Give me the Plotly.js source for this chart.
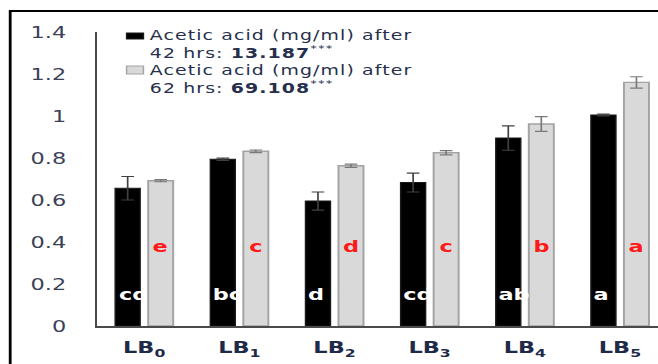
<!DOCTYPE html>
<html>
<head>
<meta charset="utf-8">
<script src="https://cdn.plot.ly/plotly-3.0.1.min.js"></script>
<style>
  html, body { margin: 0; padding: 0; background: #fff; overflow: hidden; }
  /* the reference image is horizontally stretched by 1.4; reproduce that stretch */
  #chart { width: 470px; height: 364px; transform: scaleX(1.4); transform-origin: 0 0; }
  .annotation[data-index="12"] .annotation-text { letter-spacing: 0.8px; }
</style>
</head>
<body>
<div id="chart"></div>
<script>
// ---- data ----
const categories = ['LB0', 'LB1', 'LB2', 'LB3', 'LB4', 'LB5'];
const tickLabels = ['LB<sub>0</sub>', 'LB<sub>1</sub>', 'LB<sub>2</sub>', 'LB<sub>3</sub>', 'LB<sub>4</sub>', 'LB<sub>5</sub>'];
const acid42 = [0.656, 0.794, 0.595, 0.683, 0.895, 1.005];
const err42  = [0.056, 0.005, 0.043, 0.045, 0.058, 0.004];
const acid62 = [0.692, 0.832, 0.763, 0.825, 0.962, 1.160];
const err62  = [0.005, 0.006, 0.008, 0.010, 0.035, 0.027];
const letters42 = ['cd', 'bc', 'd', 'cd', 'ab', 'a'];
const letters62 = ['e', 'c', 'd', 'c', 'b', 'a'];
const legend42 = ['Acetic acid (mg/ml) after', '42 hrs: <b>13.187</b><sup>***</sup>'];
const legend62 = ['Acetic acid (mg/ml) after', '62 hrs: <b>69.108</b><sup>***</sup>'];
const yTicks = [0, 0.2, 0.4, 0.6, 0.8, 1, 1.2, 1.4];

// ---- styling ----
const BAR_W = 0.263;
const OFF42 = -0.305;
const OFF62 = 0.042;
const COL42 = '#000000', LINE42 = '#1a1a1a';
const COL62 = '#d9d9d9', LINE62 = '#a3a3a3';

const traces = [
  {
    type: 'bar', name: legend42.join(' '), x: categories, y: acid42,
    width: BAR_W, offset: OFF42, showlegend: false,
    marker: { color: COL42, line: { color: LINE42, width: 1 } },
    error_y: { type: 'data', array: err42, visible: true, color: '#404040', thickness: 1.2, width: 4.5 }
  },
  {
    type: 'bar', name: legend62.join(' '), x: categories, y: acid62,
    width: BAR_W, offset: OFF62, showlegend: false,
    marker: { color: COL62, line: { color: LINE62, width: 1.4 } },
    error_y: { type: 'data', array: err62, visible: true, color: '#7a7a7a', thickness: 1.2, width: 4.5 }
  }
];

const annotations = [];
letters42.forEach((t, i) => {
  annotations.push({
    x: i + OFF42 + 0.004, y: 0.148, xref: 'x', yref: 'y', text: t,
    showarrow: false, xanchor: 'left', yanchor: 'middle',
    font: { family: 'DejaVu Sans', size: 16, weight: 'bold', color: '#ffffff' }
  });
});
letters62.forEach((t, i) => {
  annotations.push({
    x: i + OFF62 + BAR_W / 2, y: 0.38, xref: 'x', yref: 'y', text: t,
    showarrow: false, xanchor: 'center', yanchor: 'middle',
    font: { family: 'DejaVu Sans', size: 16, weight: 'bold', color: '#ff1a1a' }
  });
});

// legend text (one block, drawn manually so line spacing matches the reference)
annotations.push({
  x: 0.089, y: 1.025, xref: 'paper', yref: 'paper',
  text: [...legend42, ...legend62].join('<br>'),
  showarrow: false, xanchor: 'left', yanchor: 'top', align: 'left',
  font: { family: 'DejaVu Sans', size: 13.5, color: '#26304d' }
});

const shapes = [
  { type: 'rect', xref: 'paper', yref: 'paper', x0: 0.0534, x1: 0.0835, y0: 0.9762, y1: 0.9966,
    fillcolor: COL42, line: { color: LINE42, width: 1 } },
  { type: 'rect', xref: 'paper', yref: 'paper', x0: 0.0534, x1: 0.0835, y0: 0.8571, y1: 0.8844,
    fillcolor: COL62, line: { color: LINE62, width: 1 } },
  { type: 'rect', xref: 'paper', yref: 'paper', x0: -0.1539, x1: 1.1, y0: -0.3, y1: 1.0714,
    line: { color: '#000000', width: 2 }, fillcolor: 'rgba(0,0,0,0)', layer: 'above' }
];

const layout = {
  width: 470, height: 364,
  margin: { l: 68.57, r: 0, t: 32, b: 38, pad: 0 },
  paper_bgcolor: '#ffffff', plot_bgcolor: '#ffffff',
  barmode: 'overlay',
  showlegend: false,
  xaxis: {
    type: 'category', range: [-0.5, 5.4],
    tickmode: 'array', tickvals: categories, ticktext: tickLabels,
    showline: true, linecolor: '#4a4a4a', linewidth: 2,
    ticks: '', showgrid: false, zeroline: false,
    ticklabelstandoff: 6,
    tickfont: { family: 'DejaVu Sans', size: 16, weight: 'bold', color: '#1f2a48' }
  },
  yaxis: {
    range: [0, 1.4], tickmode: 'array', tickvals: yTicks,
    showline: true, linecolor: '#4a4a4a', linewidth: 1.5,
    ticks: '', showgrid: false, zeroline: false,
    ticklabelstandoff: 17,
    tickfont: { family: 'DejaVu Sans', size: 16, color: '#3a4058' }
  },
  annotations: annotations,
  shapes: shapes
};

Plotly.newPlot('chart', traces, layout, { displayModeBar: false, staticPlot: true });
</script>
</body>
</html>
